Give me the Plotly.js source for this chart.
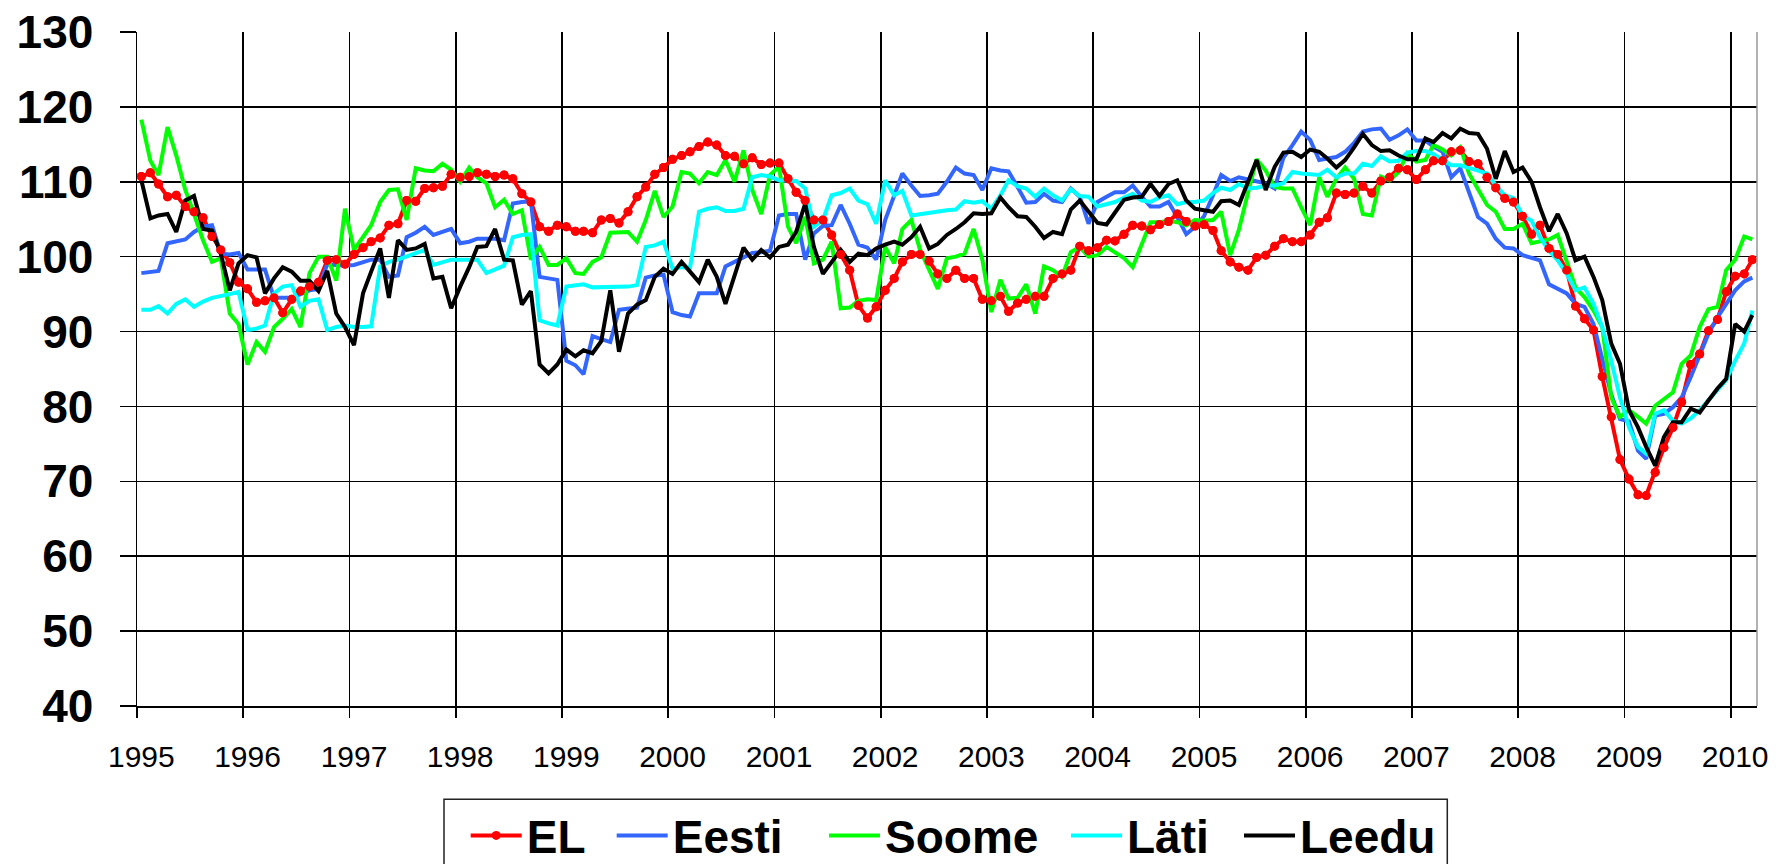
<!DOCTYPE html>
<html><head><meta charset="utf-8">
<script src="https://cdn.plot.ly/plotly-3.0.1.min.js"></script>
<style>html,body{margin:0;padding:0;background:#fff;} #chart{width:1776px;height:864px;}</style>
</head><body><div id="chart"></div>
<script>
const startYear = 1995;
const yearLabels = ['1995','1996','1997','1998','1999','2000','2001','2002','2003','2004','2005','2006','2007','2008','2009','2010'];

const EL = [110.7,111.2,109.7,108.0,108.2,106.7,106.0,105.2,102.7,100.9,99.2,96.6,
95.7,93.9,94.1,94.5,92.5,94.3,95.4,96.0,96.6,99.5,99.6,99.0,
100.3,101.2,102.0,102.5,104.2,104.4,107.5,107.4,109.1,109.2,109.4,111.0,
110.6,110.7,111.2,111.0,110.7,110.9,110.4,108.4,107.3,104.0,103.4,104.2,
104.0,103.4,103.4,103.2,104.9,105.1,104.5,106.0,108.0,109.3,111.0,111.9,
113.0,113.5,114.0,114.7,115.3,114.9,113.5,113.4,112.4,113.2,112.3,112.5,
112.5,110.4,108.6,107.5,104.9,104.9,102.9,100.3,98.2,93.5,91.8,93.3,
95.5,97.1,99.3,100.3,100.3,99.4,97.7,97.1,98.2,97.1,97.1,94.3,
94.1,94.7,92.7,93.8,94.3,94.7,94.7,97.1,97.7,98.2,101.4,100.8,
101.2,102.2,102.1,103.0,104.2,104.1,103.6,104.3,104.7,105.7,104.7,104.1,
104.3,103.5,100.8,99.3,98.6,98.2,99.9,100.2,101.4,102.4,102.0,102.0,
102.9,104.6,105.2,108.5,108.3,108.5,109.4,108.5,110.1,110.6,111.8,111.6,
110.3,111.6,112.8,112.8,114.0,114.2,112.7,112.4,110.6,109.2,107.8,107.3,
105.4,103.0,104.2,101.1,100.3,98.2,93.4,91.7,90.2,84.0,78.6,72.9,
70.3,68.2,68.1,71.2,74.5,77.2,80.6,85.6,87.0,90.1,91.6,95.3,
97.4,97.7,99.6];

const Eesti = [97.8,97.9,98.1,101.8,102.0,102.3,103.3,104.0,104.2,100.4,100.3,100.5,
98.3,98.3,98.3,94.5,94.5,94.5,95.0,95.5,95.7,99.0,98.9,98.8,
98.9,99.3,99.6,99.6,97.3,97.5,102.6,103.2,104.0,102.9,103.3,103.7,
101.8,102.0,102.4,102.4,102.4,102.2,107.1,107.3,107.4,97.3,97.1,96.9,
86.1,85.5,84.3,89.4,89.0,88.6,92.9,93.1,93.2,97.2,97.5,97.6,
92.6,92.2,92.0,95.1,95.1,95.1,98.7,99.3,100.0,100.5,100.6,100.8,
105.5,105.7,105.7,99.6,103.1,104.1,104.2,106.9,104.4,101.6,101.2,99.6,
104.9,108.0,111.1,109.5,108.1,108.2,108.4,110.0,111.9,111.1,110.9,108.9,
111.8,111.5,111.4,109.3,107.2,107.3,108.4,107.5,107.3,109.1,108.0,104.4,
107.3,108.0,108.6,108.6,109.5,108.0,106.7,106.7,107.3,105.3,103.0,104.0,
105.4,108.2,110.9,110.1,110.6,110.3,110.1,109.8,109.1,113.2,114.9,116.7,
115.6,112.9,113.1,113.3,114.0,115.2,116.7,117.0,117.1,115.6,116.2,117.0,
115.5,115.5,114.7,114.0,110.6,111.8,108.6,105.3,104.4,102.4,101.2,101.1,
100.2,99.9,99.5,96.3,95.7,95.1,93.7,93.3,91.0,86.5,81.6,78.3,
78.0,74.1,73.0,78.8,79.0,79.9,81.2,83.9,87.0,89.7,91.9,93.7,
95.5,96.7,97.2];

const Soome = [118.3,112.8,110.9,117.3,113.5,108.9,105.7,102.2,99.3,99.8,92.4,91.0,
85.6,88.6,87.3,90.6,91.7,93.0,90.6,97.8,100.0,100.0,96.8,106.4,
100.9,102.6,104.2,107.3,108.9,109.0,104.9,111.8,111.5,111.4,112.4,111.6,
110.0,111.9,110.6,109.8,106.6,107.6,105.7,106.2,99.6,101.3,98.9,98.9,
99.8,97.8,97.7,99.3,99.9,103.2,103.2,103.3,102.0,104.9,108.8,105.3,
106.7,111.3,111.1,109.8,111.3,110.9,112.9,110.0,114.2,108.9,105.7,110.9,
112.0,104.0,101.8,105.3,99.1,99.6,102.0,93.1,93.2,94.1,94.3,94.2,
101.3,99.1,103.7,104.9,100.9,98.2,95.7,99.8,100.0,100.4,103.7,99.6,
92.6,96.9,94.4,94.5,96.3,92.4,98.7,98.2,97.3,100.6,101.3,100.0,
100.2,101.3,100.6,99.8,98.6,101.8,104.6,104.6,104.8,104.6,104.2,104.9,
104.8,104.9,106.0,100.2,103.6,108.5,113.0,111.5,109.3,109.1,109.1,106.6,
104.2,110.6,108.0,110.4,111.9,110.4,105.7,105.5,110.7,110.2,111.3,113.8,
112.7,112.9,114.9,114.3,113.5,114.6,111.1,109.0,106.9,106.0,103.7,103.7,
104.4,101.8,102.0,102.3,102.9,99.5,95.9,94.6,92.8,90.6,81.2,78.6,
79.5,78.6,77.7,80.1,81.0,81.9,85.7,86.8,90.6,93.0,93.3,98.2,
99.6,102.7,102.3];

const Lati = [92.9,92.9,93.4,92.4,93.7,94.3,93.3,94.0,94.5,94.7,95.0,95.3,
90.2,90.4,90.8,95.1,96.0,96.2,93.3,94.1,94.3,90.2,90.6,90.8,
90.6,90.6,90.7,98.7,99.3,99.6,100.0,100.4,100.9,98.9,99.3,99.6,
99.6,99.6,99.6,97.8,98.3,98.8,102.6,102.9,103.0,91.5,91.1,90.8,
96.0,96.1,96.3,95.9,95.9,96.0,96.0,96.0,96.2,101.3,101.5,102.0,
98.4,98.6,98.5,106.0,106.4,106.6,106.1,106.1,106.4,110.6,110.9,110.7,
110.2,110.2,110.1,109.1,104.0,104.9,108.2,108.5,109.1,107.5,107.0,104.4,
110.2,108.2,108.8,105.5,105.7,105.8,106.0,106.2,106.3,107.4,107.2,107.4,
106.4,108.2,110.2,109.4,109.1,108.0,109.1,108.2,107.5,109.0,108.1,108.0,
106.7,107.0,107.3,107.9,108.4,107.5,107.3,107.9,108.2,107.0,107.3,107.3,
107.5,108.5,109.2,108.9,109.7,109.1,109.2,109.5,109.5,109.8,111.3,111.1,
111.0,110.9,111.6,110.6,111.1,111.1,112.4,112.1,113.4,112.7,112.8,113.9,
114.1,114.1,113.7,112.9,112.2,112.2,111.9,111.5,111.1,109.5,108.2,107.8,
105.5,104.8,102.6,100.8,99.5,97.7,95.5,95.9,93.7,90.6,86.1,81.2,
77.2,74.6,73.7,79.0,79.5,78.1,77.7,78.4,79.5,80.8,82.1,83.5,
86.1,88.4,92.8];

const Leedu = [110.2,105.1,105.5,105.7,103.3,107.5,108.1,103.7,103.5,100.4,95.5,99.1,
100.2,99.9,95.1,97.1,98.6,98.0,96.8,96.8,95.4,98.1,92.4,90.6,
88.2,95.1,98.0,101.1,94.5,102.2,100.9,101.1,101.7,97.1,97.3,93.1,
96.0,98.6,101.3,101.4,103.7,99.6,99.5,93.6,95.4,85.6,84.4,85.6,
87.6,86.7,87.5,87.1,88.7,95.5,87.3,92.4,93.6,94.2,97.3,98.4,
97.7,99.3,98.0,96.6,99.6,97.3,93.7,97.3,101.2,99.6,100.9,99.9,
101.3,101.6,103.3,107.1,101.3,97.7,99.2,100.9,99.3,100.4,100.2,101.1,
101.6,102.0,101.6,102.6,104.0,101.1,101.7,102.9,103.7,104.6,105.8,105.7,
105.8,107.9,106.6,105.4,105.3,104.0,102.5,103.3,103.0,106.3,107.5,106.0,
104.5,104.3,106.0,107.6,107.9,108.0,109.7,108.1,109.7,110.2,107.5,106.4,
106.2,106.0,107.4,107.5,106.9,109.8,112.9,108.9,112.0,113.9,114.0,113.3,
114.3,114.0,113.1,111.9,112.9,114.6,116.4,114.9,114.1,114.2,113.5,113.0,
113.0,115.8,115.3,116.5,115.8,117.1,116.5,116.4,114.4,110.4,114.1,111.3,
111.9,110.0,106.6,103.4,105.7,103.1,99.5,100.0,97.3,94.2,88.4,85.7,
79.5,77.2,74.6,72.1,75.9,77.9,77.9,79.7,79.2,80.8,82.4,83.7,
91.0,90.0,92.2];

// each month sits in the middle of its category slot
const months = EL.map((_, i) => {
  const y = startYear + Math.floor(i / 12);
  const m = (i % 12) + 1;
  return y + '-' + String(m).padStart(2, '0') + '-16';
});
const labelVals = yearLabels.map(y => y + '-01-16');  // labels centred on January
const yearStarts = yearLabels.map(y => y + '-01-01'); // gridlines at year boundaries

const W = 4;
const MS = 9;
const traces = [
  {name:'EL', legend:'legend', x:months, y:EL, mode:'lines+markers', line:{color:'#ff0000', width:W}, marker:{color:'#ff0000', size:MS}},
  {name:'Eesti', legend:'legend2', x:months, y:Eesti, mode:'lines', line:{color:'#3366ff', width:W}},
  {name:'Soome', legend:'legend3', x:months, y:Soome, mode:'lines', line:{color:'#00ff00', width:W}},
  {name:'Läti', legend:'legend4', x:months, y:Lati, mode:'lines', line:{color:'#00ffff', width:W}},
  {name:'Leedu', legend:'legend5', x:months, y:Leedu, mode:'lines', line:{color:'#000000', width:W}},
  {name:'EL', x:months, y:EL, mode:'markers', marker:{color:'#ff0000', size:MS}, showlegend:false, hoverinfo:'skip'}
];

const legFont = {family:'Liberation Sans, Arial, sans-serif', size:46, color:'#000', weight:'bold'};
const plotL = 137, plotW = 1620;
const textStarts = [526.7, 672.7, 885, 1127, 1300];
const IW = 51;
function legendAt(px) {
  return {orientation:'h', x:(px - (IW + 10) - plotL) / plotW, xanchor:'left', y:-0.138, yanchor:'top',
          font:legFont, borderwidth:0, bgcolor:'rgba(0,0,0,0)', itemwidth:IW};
}

const layout = {
  width:1776, height:864,
  margin:{l:137, r:19, t:32, b:158, autoexpand:false},
  paper_bgcolor:'#ffffff', plot_bgcolor:'#ffffff',
  showlegend:true,
  legend:legendAt(textStarts[0]),
  legend2:legendAt(textStarts[1]),
  legend3:legendAt(textStarts[2]),
  legend4:legendAt(textStarts[3]),
  legend5:legendAt(textStarts[4]),
  xaxis:{
    type:'date', range:['1995-01-01','2010-04-01'],
    tickmode:'array', tickvals:labelVals, ticktext:yearLabels,
    ticks:'outside', ticklen:10, tickwidth:1, tickcolor:'rgba(0,0,0,0)',
    showgrid:false,
    minor:{tickmode:'array', tickvals:yearStarts, ticks:'outside', ticklen:10, tickwidth:1.5, tickcolor:'#000',
           showgrid:true, gridcolor:'#000', gridwidth:1.5},
    showline:true, linecolor:'#000', linewidth:1.5,
    zeroline:false,
    tickfont:{family:'Liberation Sans, Arial, sans-serif', size:30, color:'#000'},
    ticklabelstandoff:13
  },
  yaxis:{
    range:[40,130], tick0:40, dtick:10,
    ticks:'outside', ticklen:16, tickwidth:1.5, tickcolor:'#000',
    showgrid:true, gridcolor:'#000', gridwidth:1.5,
    showline:true, linecolor:'#000', linewidth:1.5,
    zeroline:false,
    tickfont:{family:'Liberation Sans, Arial, sans-serif', size:46, color:'#000', weight:'bold'},
    ticklabelstandoff:17
  },
  shapes:[
    {type:'line', xref:'paper', yref:'paper', x0:1, x1:1, y0:0, y1:1, line:{color:'#999', width:1.5}},
    {type:'rect', xref:'paper', yref:'paper', x0:(444-plotL)/plotW, x1:(1447.3-plotL)/plotW, y0:-0.1384, y1:-0.26,
     line:{color:'#222', width:1.5}, fillcolor:'rgba(0,0,0,0)'}
  ]
};

Plotly.newPlot('chart', traces, layout, {displayModeBar:false, staticPlot:true});
</script>
</body></html>
